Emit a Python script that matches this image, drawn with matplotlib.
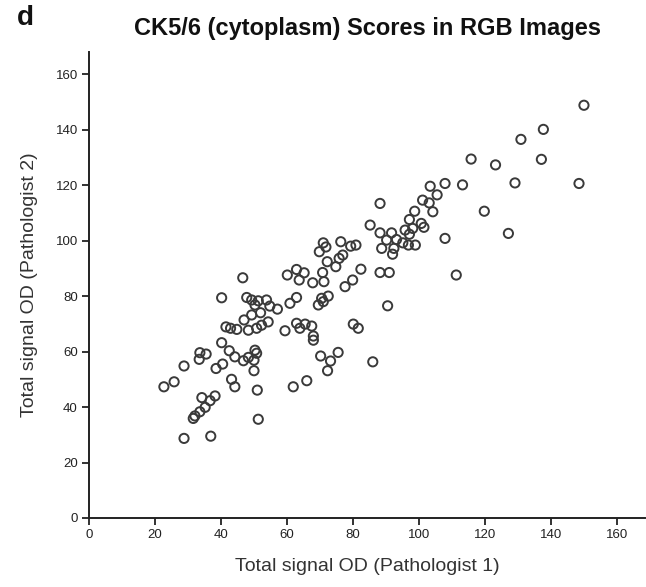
import matplotlib
matplotlib.use("Agg")
import matplotlib.pyplot as plt

# scores (Pathologist 1 vs Pathologist 2)
path1 = [150, 137.7, 130.9, 137.1, 115.8, 123.2, 129.1, 148.5, 107.9, 113.2,
         103.4, 105.5, 101.1, 103.1, 98.7, 104.2, 119.8, 97.1, 100.7, 101.5,
         95.8, 98.1, 95.1, 96.8, 98.9, 107.9, 127.1, 111.3, 88.2, 91.7,
         88.2, 97.1, 90.2, 93.2, 88.7, 92.4, 92.0, 85.2, 76.3, 79.3,
         80.9, 71.0, 69.8, 71.8, 76.9, 75.8, 72.2, 74.8, 82.4, 88.2,
         91.0, 62.9, 65.2, 70.8, 63.7, 67.8, 71.2, 79.9, 77.6, 62.9,
         70.5, 72.5, 69.5, 71.0, 90.5, 62.9, 65.5, 67.5, 80.1, 81.6,
         63.9, 68.0, 68.0, 70.2, 75.5, 73.2, 72.3, 86.0, 66.0, 61.9,
         40.2, 42.5, 44.2, 33.6, 35.5, 33.4, 28.8, 38.5, 40.5, 46.8,
         48.3, 50.3, 50.8, 50.0, 50.0, 43.2, 44.2, 51.0, 22.7, 25.8,
         34.2, 36.7, 38.2, 35.2, 33.6, 32.1, 31.6, 51.3, 28.8, 36.9,
         46.6, 60.1, 40.2, 47.8, 49.3, 51.3, 53.8, 54.8, 57.1, 60.9,
         50.3, 52.0, 49.3, 47.0, 41.5, 42.9, 44.8, 48.3, 50.8, 52.3,
         54.3, 59.4]
path2 = [148.8, 140.1, 136.5, 129.3, 129.4, 127.3, 120.8, 120.6, 120.6, 120.1,
         119.6, 116.5, 114.6, 113.6, 110.6, 110.4, 110.6, 107.6, 106.2, 104.8,
         103.8, 104.4, 99.2, 98.4, 98.4, 100.8, 102.6, 87.6, 113.4, 102.8,
         102.8, 102.3, 100.2, 100.4, 97.2, 97.2, 95.1, 105.6, 99.6, 98.0,
         98.4, 99.2, 96.0, 97.7, 94.8, 93.6, 92.4, 90.6, 89.7, 88.5,
         88.5, 89.6, 88.4, 88.5, 85.8, 84.8, 85.2, 85.8, 83.4, 79.5,
         79.2, 80.0, 76.8, 78.0, 76.5, 70.2, 69.9, 69.2, 69.9, 68.4,
         68.4, 65.6, 64.1, 58.4, 59.7, 56.6, 53.1, 56.3, 49.5, 47.3,
         63.2, 60.3, 58.1, 59.6, 59.1, 57.2, 54.8, 53.9, 55.5, 56.7,
         57.9, 60.5, 59.4, 56.9, 53.1, 50.0, 47.3, 46.1, 47.3, 49.1,
         43.4, 42.3, 44.0, 39.9, 38.3, 36.8, 35.9, 35.6, 28.7, 29.5,
         86.6, 87.6, 79.4, 79.5, 78.6, 78.3, 78.6, 76.4, 75.3, 77.4,
         76.8, 74.0, 73.2, 71.4, 68.9, 68.4, 68.0, 67.7, 68.4, 69.5,
         70.7, 67.5]
ticks = [0, 20, 40, 60, 80, 100, 120, 140, 160]

plt.rcParams['font.family'] = ['Liberation Sans', 'DejaVu Sans']

fig = plt.figure(figsize=(6.46, 5.87), dpi=100)
ax = fig.add_axes([89 / 646, 69 / 587, (645 - 89) / 646, (518 - 52) / 587])

ax.scatter(path1, path2, s=44, facecolors='none', edgecolors='#3a3a3a',
           linewidths=1.4, zorder=3)

ax.set_xlim(0, 168.5)
ax.set_ylim(0, 168)
ax.set_xticks(ticks)
ax.set_yticks(ticks)
ax.tick_params(direction='out', length=5, width=1.3, labelsize=9.5,
               colors='#222222', pad=3)
for side in ['top', 'right']:
    ax.spines[side].set_visible(False)
for side in ['left', 'bottom']:
    ax.spines[side].set_linewidth(1.4)
    ax.spines[side].set_color('#222222')

ax.set_xlabel('Total signal OD (Pathologist 1)', fontsize=14, color='#333333')
ax.set_ylabel('Total signal OD (Pathologist 2)', fontsize=14, color='#333333')
ax.xaxis.set_label_coords(0.5, -0.085)
ax.yaxis.set_label_coords(-0.092, 0.5)

fig.text(368 / 646, 1 - 28 / 587, 'CK5/6 (cytoplasm) Scores in RGB Images',
         ha='center', va='center', fontsize=17, fontweight='bold', color='#111111')
fig.text(17 / 646, 1 - 18 / 587, 'd', ha='left', va='center', fontsize=20,
         fontweight='bold', color='#111111')

fig.savefig('out.png', dpi=100)
